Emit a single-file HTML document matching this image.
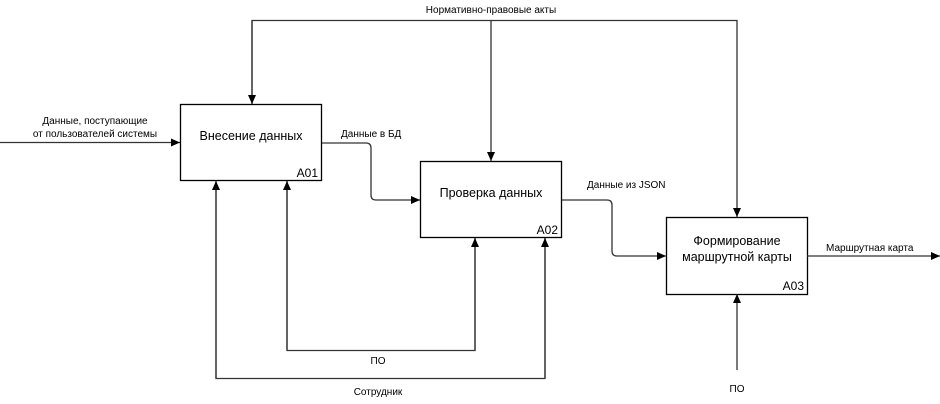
<!DOCTYPE html>
<html><head><meta charset="utf-8"><style>
html,body{margin:0;padding:0;background:#fff;}
svg{display:block;}
text{font-family:"Liberation Sans","DejaVu Sans",sans-serif;fill:#000;}
</style></head><body>
<svg width="940" height="404" viewBox="0 0 940 404" xmlns="http://www.w3.org/2000/svg">
<defs>
<marker id="a" markerWidth="10" markerHeight="10" refX="9" refY="5" orient="auto" markerUnits="userSpaceOnUse">
<path d="M0,1 L9,5 L0,9 Z" fill="#000"/>
</marker>
</defs>
<g fill="none" stroke="#000" stroke-width="1.3">
<rect x="180.5" y="104.5" width="141" height="76"/>
<rect x="420.5" y="161.5" width="141" height="76"/>
<rect x="666.5" y="217.5" width="141" height="77"/>
</g>
<g fill="none" stroke="#333" stroke-width="1.3">
<path d="M252,104 V20.5 H737 V217" marker-end="url(#a)"/>
<path d="M252,20.5 V104" marker-end="url(#a)"/>
<path d="M491,20.5 V161" marker-end="url(#a)"/>
<path d="M0,142.5 H180" marker-end="url(#a)"/>
<path d="M322,143 H366 Q371,143 371,148 V195 Q371,200 376,200 H420" marker-end="url(#a)"/>
<path d="M562,200 H607 Q612,200 612,205 V251 Q612,256 617,256 H666" marker-end="url(#a)"/>
<path d="M807,256 H940" marker-end="url(#a)"/>
<path d="M737,370 V294" marker-end="url(#a)"/>
<path d="M287,181 V350.5 H475 V238"/>
<path d="M287,350 V181" marker-end="url(#a)"/>
<path d="M475,350 V238" marker-end="url(#a)"/>
<path d="M216,181 V378.5 H545 V238"/>
<path d="M216,378 V181" marker-end="url(#a)"/>
<path d="M545,378 V238" marker-end="url(#a)"/>
</g>
<g font-size="12.5" text-anchor="middle">
<text x="251" y="140">Внесение данных</text>
<text x="491" y="197">Проверка данных</text>
<text x="737" y="245">Формирование</text>
<text x="737" y="261">маршрутной карты</text>
</g>
<g font-size="12" text-anchor="end">
<text x="318" y="177">A01</text>
<text x="558" y="234">A02</text>
<text x="804" y="290">A03</text>
</g>
<g font-size="10">
<text x="491" y="13" text-anchor="middle">Нормативно-правовые акты</text>
<text x="95" y="124" text-anchor="middle">Данные, поступающие</text>
<text x="95" y="137" text-anchor="middle">от пользователей системы</text>
<text x="341" y="137">Данные в БД</text>
<text x="587" y="188">Данные из JSON</text>
<text x="826" y="251">Маршрутная карта</text>
<text x="378" y="364" text-anchor="middle">ПО</text>
<text x="378" y="395" text-anchor="middle">Сотрудник</text>
<text x="737" y="392" text-anchor="middle">ПО</text>
</g>
</svg>
</body></html>
